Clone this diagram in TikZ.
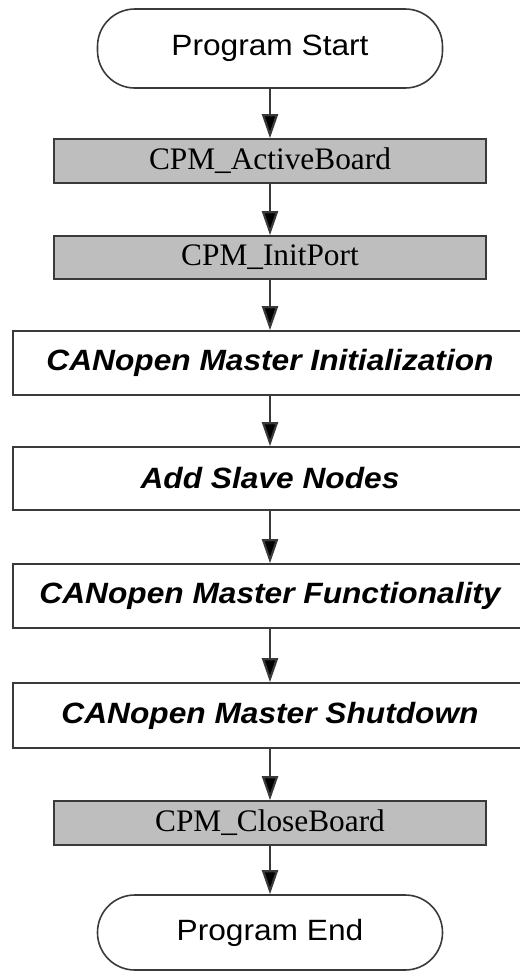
\documentclass[tikz,border=0pt]{standalone}
\usepackage{fontspec}
\setmainfont{Liberation Serif}
\setsansfont{Liberation Sans}[FakeStretch=1.08]
\usetikzlibrary{arrows.meta}
\definecolor{edge}{HTML}{3A3A3A}
\definecolor{boxgray}{HTML}{BEBEBE}
\begin{document}
\begin{tikzpicture}[x=0.75pt,y=-0.75pt,
  every node/.style={line width=1.2pt, draw=edge, text=black, inner sep=0pt},
  terminal/.style={rectangle, rounded corners=28pt, fill=white,
    minimum width=258.75pt, font=\sffamily\fontsize{22}{26}\selectfont},
  apicall/.style={rectangle, fill=boxgray, minimum width=324pt, minimum height=33pt,
    font=\rmfamily\fontsize{23.5}{27}\selectfont},
  phase/.style={rectangle, fill=white, minimum width=385.5pt, minimum height=48pt,
    font=\sffamily\bfseries\itshape\fontsize{22}{26}\selectfont},
  flow/.style={draw=edge, line width=1.6pt,
    -{Triangle[length=18pt,width=12pt,fill=black]}}]
\useasboundingbox (0,0) rectangle (520,972);
\fill[white] (0,0) rectangle (520,972);

\node[terminal, minimum height=59.25pt] (start) at (270,48.5) {Program Start};
\node[apicall] (active) at (270,161) {CPM\_ActiveBoard};
\node[apicall, minimum height=32.25pt] (initport) at (270,257.5) {CPM\_InitPort};
\node[phase] (init) at (270,363) {CANopen Master Initialization};
\node[phase, minimum height=47.25pt] (slaves) at (270,478.5) {Add Slave Nodes};
\node[phase] (func) at (270,596) {CANopen Master Functionality};
\node[phase, minimum height=48.75pt] (shut) at (270,715.5) {CANopen Master Shutdown};
\node[apicall] (close) at (270,823) {CPM\_CloseBoard};
\node[terminal, minimum height=56.25pt] (stop) at (270,932.5) {Program End};

\draw[flow] (start) -- (active);
\draw[flow] (active) -- (initport);
\draw[flow] (initport) -- (init);
\draw[flow] (init) -- (slaves);
\draw[flow] (slaves) -- (func);
\draw[flow] (func) -- (shut);
\draw[flow] (shut) -- (close);
\draw[flow] (close) -- (stop);
\end{tikzpicture}
\end{document}
